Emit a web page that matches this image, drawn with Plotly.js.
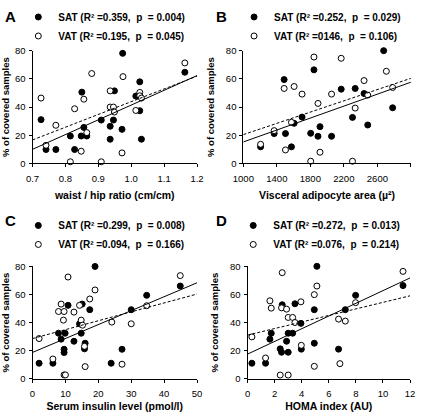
<!DOCTYPE html>
<html>
<head>
<meta charset="utf-8">
<script src="https://cdn.plot.ly/plotly-3.0.1.min.js"></script>
<style>html,body{margin:0;padding:0;background:#fff;}#chart{width:421px;height:412px;}</style>
</head>
<body>
<div id="chart"></div>
<script>
// ---- Panel A: waist / hip ratio ----
var aSatX = [0.726,0.741,0.771,0.815,0.828,0.850,0.848,0.856,0.865,0.909,0.936,0.936,0.946,0.949,0.972,0.974,1.014,1.026,1.026,1.031,1.163];
var aSatY = [31.1,9.9,9.9,19.5,9.9,50.6,19.5,25.6,19.5,30.8,26.4,17.2,30.8,51.5,24.2,78.1,47.8,57.9,37.4,17.2,64.7];
var aVatX = [0.726,0.741,0.771,0.815,0.828,0.848,0.856,0.865,0.880,0.909,0.936,0.936,0.946,0.949,0.972,0.975,1.014,1.026,1.026,1.031,1.163];
var aVatY = [46.4,12.9,27.1,1.2,38.8,8.7,45.6,21.9,63.8,1.2,51.5,40.0,40.0,36.5,7.5,61.6,37.6,50.4,48.0,46.4,71.3];
// ---- Panel B: visceral adipocyte area ----
var bSatX = [1206,1368,1487,1503,1574,1606,1701,1804,1843,1891,1915,2053,2168,2303,2335,2441,2485,2675,2782];
var bSatY = [11.8,21.2,59.5,21.2,11.8,28.5,32.9,21.4,66.4,19.3,26.1,19.3,52.7,32.7,53.2,49.6,27.3,80.0,39.5];
var bVatX = [1206,1368,1487,1503,1574,1606,1701,1804,1843,1891,1915,2053,2168,2303,2335,2441,2485,2707,2782];
var bVatY = [13.6,23.3,53.2,9.6,29.2,54.6,49.2,1.6,75.5,42.6,8.0,49.2,74.6,1.6,39.3,58.8,48.5,65.4,53.9];
// ---- Panel C: serum insulin ----
var cSatX = [2.0,6.2,7.9,8.7,9.6,9.6,9.9,10.8,12.6,14.3,14.8,15.1,16.0,15.8,17.4,19.0,23.9,27.2,30.0,34.7,44.9];
var cSatY = [11.2,11.2,32.5,28.3,21.1,18.8,32.5,52.3,26.8,39.2,32.5,53.2,25.4,21.4,49.2,79.9,11.2,21.1,49.2,59.4,66.0];
var cVatX = [2.0,6.2,7.9,8.7,9.4,9.6,9.6,10.0,10.8,12.6,14.3,14.8,15.2,15.8,16.0,17.4,19.0,24.1,27.2,30.0,34.7,44.9];
var cVatY = [28.7,14.2,47.9,53.2,41.8,47.9,2.9,2.9,72.4,47.5,52.3,41.8,38.2,23.2,8.8,56.8,63.2,40.4,10.5,39.2,52.0,73.4];
// ---- Panel D: HOMA index ----
var dSatX = [0.32,1.33,1.65,1.75,2.41,2.51,2.56,2.88,3.00,3.00,3.33,3.50,3.94,3.97,4.93,4.93,5.12,6.72,7.22,7.98,11.48];
var dSatY = [11.2,11.2,28.3,32.5,21.4,19.0,52.7,26.8,19.0,32.5,32.5,53.4,39.5,21.2,49.2,25.4,80.0,21.2,49.2,59.4,66.3];
var dVatX = [0.32,1.33,1.65,1.75,2.41,2.51,2.56,2.88,3.00,3.00,3.33,3.50,3.94,3.97,4.93,4.93,5.12,6.72,6.82,7.22,7.98,11.48];
var dVatY = [29.9,14.9,55.5,50.3,2.8,50.5,75.5,49.6,2.8,43.7,43.7,40.1,54.8,23.9,59.9,9.0,66.0,42.5,10.9,41.1,54.2,76.4];

var panelLetters = ['A','B','C','D'];
var xTitles = ['waist / hip ratio (cm/cm)','Visceral adipocyte area (\u00b5\u00b2)','Serum insulin level (pmol/l)','HOMA index (AU)'];
var yTitle = '% of covered samples';
var satLabels = ['SAT (R\u00b2 =0.359,\u00a0 p\u00a0 = 0.004)','SAT (R\u00b2 =0.252,\u00a0 p\u00a0 = 0.029)','SAT (R\u00b2 =0.299,\u00a0 p\u00a0 = 0.008)','SAT (R\u00b2 =0.272,\u00a0 p\u00a0 = 0.013)'];
var vatLabels = ['VAT (R\u00b2 =0.195,\u00a0 p\u00a0 = 0.045)','VAT (R\u00b2 =0146,\u00a0 p\u00a0 = 0.106)','VAT (R\u00b2 =0.094,\u00a0 p\u00a0 = 0.166)','VAT (R\u00b2 =0.076,\u00a0 p\u00a0 = 0.214)'];
var xRanges = [[0.7,1.2],[1000,3000],[0,50],[0,12]];
var xDticks = [0.1,400,10,2];
var xFormats = ['.1f','d','d','d'];
var yRange = [0,80];

var FONT = 'Liberation Sans, Arial, sans-serif';
var sets = [[aSatX,aSatY,aVatX,aVatY],[bSatX,bSatY,bVatX,bVatY],[cSatX,cSatY,cVatX,cVatY],[dSatX,dSatY,dVatX,dVatY]];

function fit(xs, ys){
  var n = xs.length, mx = 0, my = 0;
  for (var i=0;i<n;i++){mx+=xs[i];my+=ys[i];}
  mx/=n; my/=n;
  var sxy=0, sxx=0;
  for (var j=0;j<n;j++){sxy+=(xs[j]-mx)*(ys[j]-my); sxx+=(xs[j]-mx)*(xs[j]-mx);}
  var b = sxy/sxx; return {a: my-b*mx, b: b};
}

var traces = [];
var legendNames = ['legend','legend2','legend3','legend4'];
for (var p=0;p<4;p++){
  var s = sets[p];
  var xa = p===0?'x':'x'+(p+1), ya = p===0?'y':'y'+(p+1);
  traces.push({type:'scatter',mode:'markers',x:s[0],y:s[1],xaxis:xa,yaxis:ya,name:'<b>'+satLabels[p]+'</b>',legend:legendNames[p],cliponaxis:false,
    marker:{symbol:'circle',size:6,color:'#000',line:{color:'#000',width:1}}});
  traces.push({type:'scatter',mode:'markers',x:s[2],y:s[3],xaxis:xa,yaxis:ya,name:'<b>'+vatLabels[p]+'</b>',legend:legendNames[p],cliponaxis:false,
    marker:{symbol:'circle',size:6,color:'#fff',line:{color:'#000',width:1}}});
  var f1 = fit(s[0],s[1]), f2 = fit(s[2],s[3]);
  var xr = xRanges[p];
  traces.push({type:'scatter',mode:'lines',x:xr,y:[f1.a+f1.b*xr[0],f1.a+f1.b*xr[1]],xaxis:xa,yaxis:ya,showlegend:false,cliponaxis:false,hoverinfo:'skip',
    line:{color:'#000',width:1}});
  traces.push({type:'scatter',mode:'lines',x:xr,y:[f2.a+f2.b*xr[0],f2.a+f2.b*xr[1]],xaxis:xa,yaxis:ya,showlegend:false,cliponaxis:false,hoverinfo:'skip',
    line:{color:'#000',width:1,dash:'3px,2px'}});
}

var xDomains = [[0.0772,0.468],[0.578,0.976],[0.0772,0.468],[0.588,0.974]];
var yDomains = [[0.6032,0.877],[0.6032,0.877],[0.0801,0.3536],[0.0801,0.3536]];

var layout = {
  width:421, height:412, margin:{l:0,r:0,t:0,b:0},
  paper_bgcolor:'#fff', plot_bgcolor:'#fff',
  font:{family:FONT,color:'#000',size:9.5},
  showlegend:true,
  annotations:[], shapes:[]
};
var legendPos = [[0.0435,0.994],[0.556,0.994],[0.0435,0.488],[0.554,0.488]];
for (var q=0;q<4;q++){
  var suf = q===0?'':(q+1);
  layout['xaxis'+suf] = {domain:xDomains[q],anchor:'y'+suf,range:xRanges[q],dtick:xDticks[q],tick0:xRanges[q][0],tickformat:xFormats[q],
    showgrid:false,zeroline:false,showline:true,linecolor:'#000',linewidth:1,ticks:'outside',ticklen:3,tickwidth:1,tickcolor:'#000',
    tickfont:{size:9.5,family:FONT},ticklabelstandoff:3,
    title:{text:'<b>'+xTitles[q]+'</b>',font:{size:10.5,family:FONT},standoff:8}};
  layout['yaxis'+suf] = {domain:yDomains[q],anchor:'x'+suf,range:yRange,dtick:20,
    showgrid:false,zeroline:false,showline:true,linecolor:'#000',linewidth:1,ticks:'outside',ticklen:3,tickwidth:1,tickcolor:'#000',
    tickfont:{size:9.5,family:FONT},ticklabelstandoff:1,
    title:{text:'<b>'+yTitle+'</b>',font:{size:9.5,family:FONT},standoff:9}};
  layout[legendNames[q]] = {x:legendPos[q][0],y:legendPos[q][1],xanchor:'left',yanchor:'top',bgcolor:'rgba(0,0,0,0)',
    font:{size:10,family:FONT,color:'#000'},tracegroupgap:0,itemclick:false,itemdoubleclick:false};
  layout.annotations.push({text:'<b>'+panelLetters[q]+'</b>',xref:'paper',yref:'paper',
    x:(q%2===0?3:214)/421, y:(q<2?412-6:412-210)/412, xanchor:'left',yanchor:'top',showarrow:false,
    font:{size:15,family:FONT,color:'#000'}});
}

Plotly.newPlot('chart', traces, layout, {staticPlot:true, displayModeBar:false});
</script>
</body>
</html>
